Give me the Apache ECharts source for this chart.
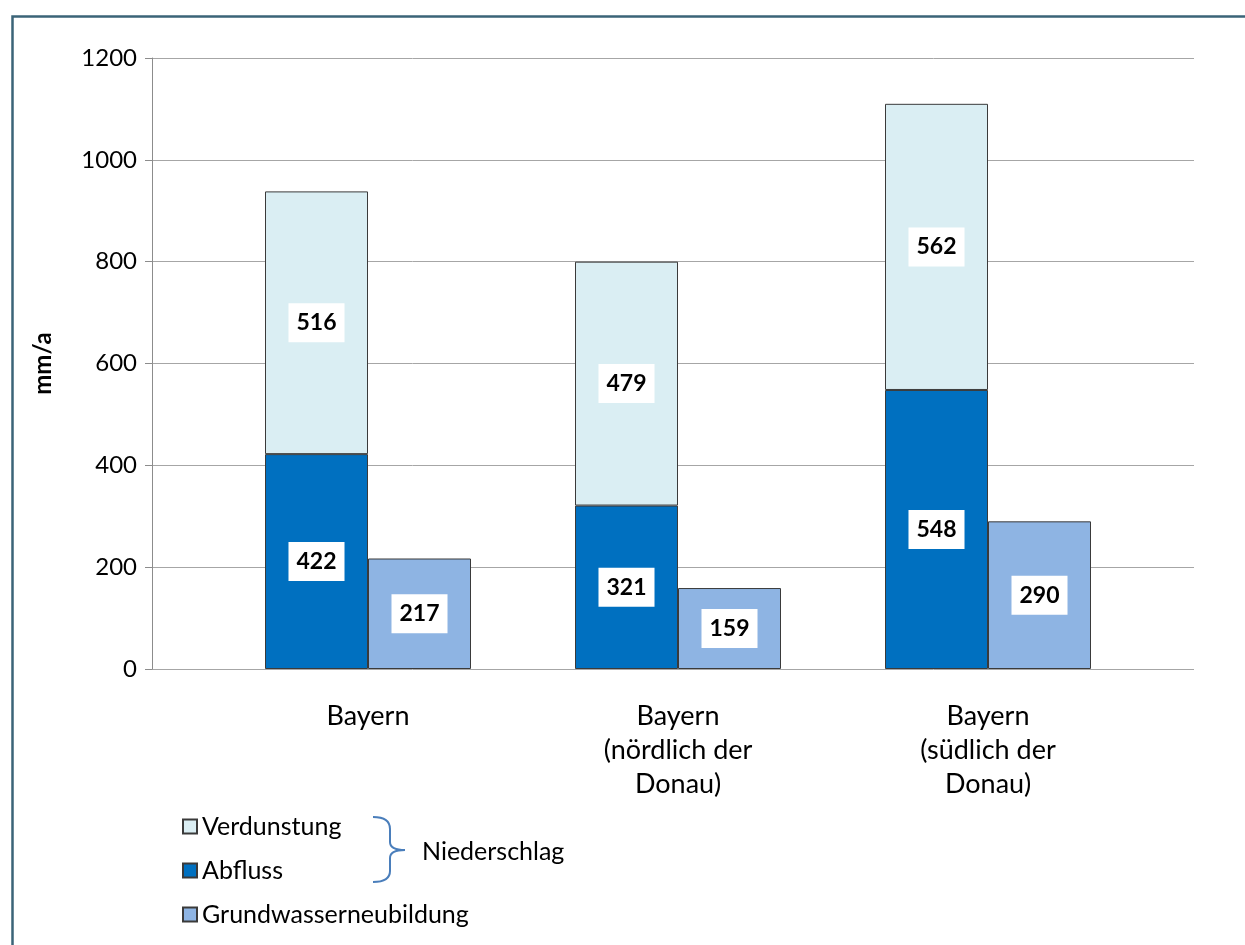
<!DOCTYPE html>
<html>
<head>
<meta charset="utf-8">
<script src="https://cdn.jsdelivr.net/npm/echarts@6/dist/echarts.min.js"></script>
<style>
  html, body { margin: 0; padding: 0; background: #fff; }
  #chart { width: 1245px; height: 945px; }
</style>
</head>
<body>
<div id="chart"></div>
<script>
// Regions
const categories = ['Bayern', 'Bayern\n(nördlich der\nDonau)', 'Bayern\n(südlich der\nDonau)'];
// Water balance components in mm/a
const verdunstung = [516, 479, 562];
const abfluss = [422, 321, 548];
const grundwasser = [217, 159, 290];
const yTicks = [0, 200, 400, 600, 800, 1000, 1200];

const FONT = 'Lato, "Open Sans", sans-serif';
const EDGE = '#3a3a3a';

const valueLabel = {
  show: true,
  position: 'inside',
  color: '#000',
  fontFamily: FONT,
  fontWeight: 'bold',
  fontSize: 23,
  backgroundColor: '#fff',
  padding: [8, 8, 8, 8]
};

const chart = echarts.init(document.getElementById('chart'), null, { renderer: 'canvas' });

chart.setOption({
  animation: false,
  backgroundColor: '#fff',
  grid: [
    { left: 152, right: 51, top: 58, bottom: 276 },
    { left: 213, right: 102, top: 58, bottom: 276 }
  ],
  xAxis: [
    { gridIndex: 0, type: 'value', min: 0, max: 1, show: false },
    {
      gridIndex: 1, type: 'category', data: categories,
      axisLine: { show: false }, axisTick: { show: false },
      axisLabel: {
        color: '#000', fontFamily: FONT, fontSize: 27,
        lineHeight: 34, margin: 30, align: 'center'
      }
    }
  ],
  yAxis: [
    {
      gridIndex: 0, type: 'value', min: yTicks[0], max: yTicks[yTicks.length - 1], interval: 200,
      name: 'mm/a', nameLocation: 'middle', nameGap: 97, nameRotate: 90,
      nameTextStyle: { color: '#000', fontFamily: FONT, fontWeight: 'bold', fontSize: 24 },
      axisLine: { show: true, lineStyle: { color: '#8c8c8c', width: 1 } },
      axisTick: { show: true, inside: false, length: 7, lineStyle: { color: '#8c8c8c' } },
      axisLabel: {
        color: '#000', fontFamily: FONT, fontSize: 24, margin: 15,
        formatter: v => String(v)
      },
      splitLine: { show: true, lineStyle: { color: '#a6a6a6', width: 1 } }
    },
    { gridIndex: 1, type: 'value', min: 0, max: 1200, interval: 200, show: false, splitLine: { show: false } }
  ],
  legend: {
    orient: 'vertical',
    left: 177, top: 809,
    icon: 'rect',
    itemWidth: 14, itemHeight: 14,
    itemGap: 19,
    textStyle: { color: '#000', fontFamily: FONT, fontSize: 25 },
    data: ['Verdunstung', 'Abfluss', 'Grundwasserneubildung'],
    selectedMode: false
  },
  series: [
    {
      name: 'Abfluss', type: 'bar', xAxisIndex: 1, yAxisIndex: 1, stack: 'niederschlag',
      data: abfluss, barWidth: 103, barGap: '0%',
      itemStyle: { color: '#0070c0', borderColor: EDGE, borderWidth: 1 },
      label: valueLabel
    },
    {
      name: 'Verdunstung', type: 'bar', xAxisIndex: 1, yAxisIndex: 1, stack: 'niederschlag',
      data: verdunstung, barWidth: 103, barGap: '0%',
      itemStyle: { color: '#daeef3', borderColor: EDGE, borderWidth: 1 },
      label: valueLabel
    },
    {
      name: 'Grundwasserneubildung', type: 'bar', xAxisIndex: 1, yAxisIndex: 1,
      data: grundwasser, barWidth: 103, barGap: '0%',
      itemStyle: { color: '#8eb4e3', borderColor: EDGE, borderWidth: 1 },
      label: valueLabel
    }
  ],
  graphic: [
    // frame around the figure
    {
      type: 'rect', left: 10, top: 14, z: 100, silent: true,
      shape: { x: 0, y: 0, width: 1400, height: 1100 },
      style: { fill: 'none', stroke: '#3b6478', lineWidth: 2.5 }
    },
    // curly brace grouping Verdunstung and Abfluss
    {
      type: 'group', silent: true,
      children: [
        { type: 'bezierCurve', shape: { x1: 373, y1: 817, x2: 390, y2: 829, cpx1: 390, cpy1: 817 }, style: { stroke: '#4a7ebb', lineWidth: 2, fill: 'none' } },
        { type: 'line', shape: { x1: 390, y1: 829, x2: 390, y2: 842 }, style: { stroke: '#4a7ebb', lineWidth: 2 } },
        { type: 'bezierCurve', shape: { x1: 390, y1: 842, x2: 405, y2: 850, cpx1: 390, cpy1: 850 }, style: { stroke: '#4a7ebb', lineWidth: 2, fill: 'none' } },
        { type: 'bezierCurve', shape: { x1: 405, y1: 850, x2: 390, y2: 858, cpx1: 390, cpy1: 850 }, style: { stroke: '#4a7ebb', lineWidth: 2, fill: 'none' } },
        { type: 'line', shape: { x1: 390, y1: 858, x2: 390, y2: 871 }, style: { stroke: '#4a7ebb', lineWidth: 2 } },
        { type: 'bezierCurve', shape: { x1: 390, y1: 871, x2: 373, y2: 882, cpx1: 390, cpy1: 882 }, style: { stroke: '#4a7ebb', lineWidth: 2, fill: 'none' } }
      ]
    },
    {
      type: 'text', left: 422, top: 839, silent: true,
      style: { text: 'Niederschlag', fill: '#000', font: '25px ' + FONT }
    }
  ]
});
</script>
</body>
</html>
